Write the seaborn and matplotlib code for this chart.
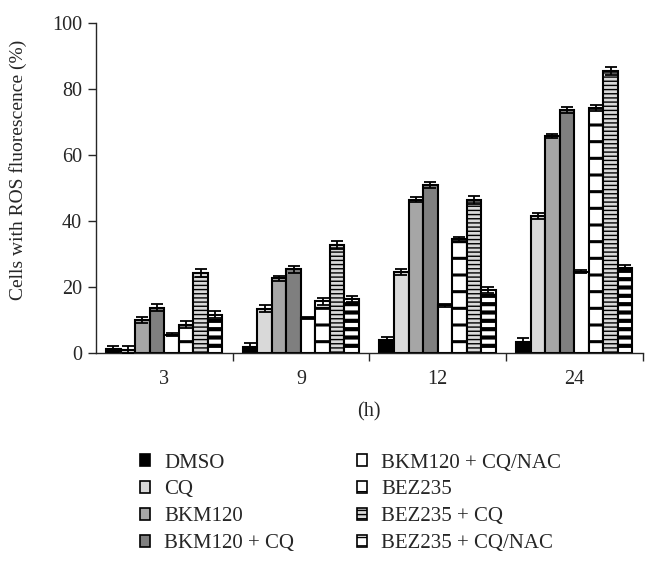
import matplotlib
matplotlib.use('Agg')
import matplotlib.pyplot as plt
import matplotlib.patches as mpatches
import numpy as np
import pandas as pd
import seaborn as sns

# valori
hours = ['3', '9', '12', '24']
treatments = ['DMSO', 'CQ', 'BKM120', 'BKM120 + CQ',
              'BKM120 + CQ/NAC', 'BEZ235', 'BEZ235 + CQ', 'BEZ235 + CQ/NAC']

dmso = [1.3, 2.0, 4.0, 3.5]
cq = [1.0, 13.5, 24.7, 41.7]
bkm = [10.0, 22.7, 46.5, 65.9]
bkm_cq = [13.8, 25.4, 50.9, 73.6]
bkm_cq_nac = [5.6, 10.6, 14.5, 24.7]
bez = [8.6, 15.7, 34.5, 74.2]
bez_cq = [24.4, 32.9, 46.5, 85.4]
bez_cq_nac = [11.7, 16.5, 19.1, 25.8]

dmso_err = [1.0, 1.0, 0.9, 1.0]
cq_err = [1.2, 1.0, 0.9, 0.9]
bkm_err = [0.8, 0.7, 0.7, 0.6]
bkm_cq_err = [1.0, 1.0, 1.0, 0.9]
bkm_cq_nac_err = [0.4, 0.4, 0.4, 0.4]
bez_err = [1.0, 1.0, 0.8, 0.9]
bez_cq_err = [1.2, 1.2, 1.2, 1.2]
bez_cq_nac_err = [1.0, 0.9, 0.9, 1.0]

values = [dmso, cq, bkm, bkm_cq, bkm_cq_nac, bez, bez_cq, bez_cq_nac]
errors = [dmso_err, cq_err, bkm_err, bkm_cq_err, bkm_cq_nac_err, bez_err, bez_cq_err, bez_cq_nac_err]

colors = ['#000000', '#d9d9d9', '#a6a6a6', '#7f7f7f', '#ffffff', '#ffffff', '#d9d9d9', '#ffffff']
hatches = ['', '', '', '', '', '-', '----', '--']
hatch_lw = [1, 1, 1, 1, 1, 2.2, 1.0, 3.0]

rows = []
for t, vals in zip(treatments, values):
    for h, v in zip(hours, vals):
        rows.append({'hour': h, 'treatment': t, 'value': v})
df = pd.DataFrame(rows)

sns.set_style('ticks')
plt.rcParams['font.family'] = ['Liberation Serif', 'DejaVu Serif']

fig = plt.figure(figsize=(6.57, 5.65), dpi=100)
ax = fig.add_axes([0.146, 0.375, 0.832, 0.584])

sns.barplot(data=df, x='hour', y='value', hue='treatment', order=hours,
            hue_order=treatments, palette=colors, width=0.85,
            edgecolor='black', linewidth=1.5, errorbar=None, legend=False, ax=ax)

bar_conts = list(ax.containers)
for i, cont in enumerate(bar_conts):
    xs = [b.get_x() + b.get_width() / 2 for b in cont]
    ys = [b.get_height() for b in cont]
    for b in cont:
        b.set_hatch(hatches[i])
        try:
            b.set_hatch_linewidth(hatch_lw[i])
        except AttributeError:
            pass
    ax.errorbar(xs, ys, yerr=errors[i], fmt='none', ecolor='black',
                elinewidth=1.3, capsize=4, capthick=1.3, zorder=5)

ax.set_ylim(0, 100)
ax.set_xlim(-0.5, 3.5)
ax.set_yticks(np.arange(0, 101, 20))
ax.tick_params(axis='y', labelsize=14.5, direction='out', length=6, width=1, pad=4)
ax.set_xticks(range(4))
ax.set_xticklabels(hours, fontsize=14.5)
ax.tick_params(axis='x', length=0, pad=12)
ax.set_xticks([0.5, 1.5, 2.5, 3.5], minor=True)
ax.tick_params(axis='x', which='minor', direction='out', length=6, width=1)
sns.despine(ax=ax)
ax.spines['left'].set_linewidth(1)
ax.spines['bottom'].set_linewidth(1)
ax.set_ylabel('Cells with ROS fluorescence (%)', fontsize=14)
ax.yaxis.set_label_coords(-0.127, 0.555)
ax.set_xlabel('(h)', fontsize=14.5, labelpad=10)

# legenda
handles = []
for i, t in enumerate(treatments):
    p = mpatches.Patch(facecolor=colors[i], edgecolor='black', hatch=hatches[i], linewidth=1.2, label=t)
    handles.append(p)
fig.legend(handles=handles, loc='upper left', bbox_to_anchor=(0.200, 0.212), ncol=2,
           frameon=False, fontsize=15, handlelength=0.5, handleheight=0.5,
           handletextpad=0.67, columnspacing=3.0, labelspacing=0.38, borderaxespad=0)

plt.savefig('out.png', dpi=100)
plt.close()
